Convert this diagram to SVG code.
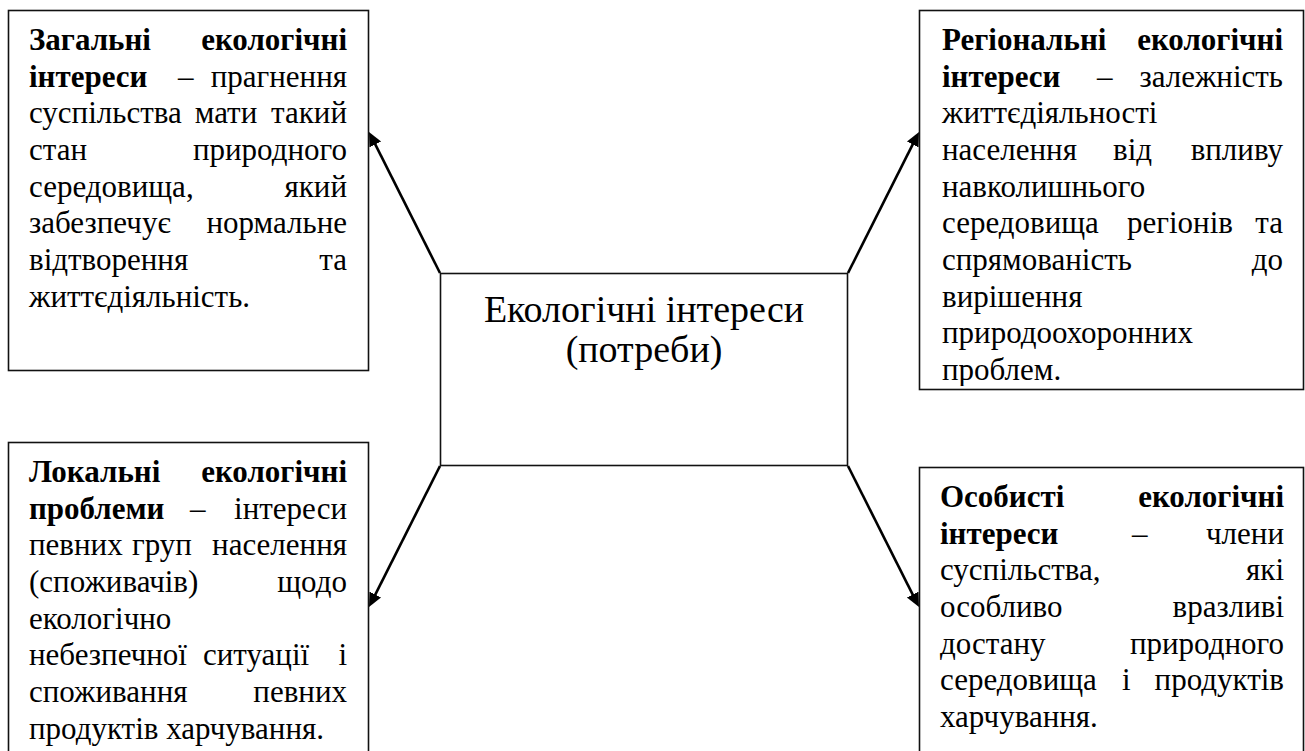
<svg xmlns="http://www.w3.org/2000/svg" width="1305" height="751" viewBox="0 0 1305 751">
<style>
.box{fill:#fff;stroke:#111;stroke-width:1.6}
.t{font-size:31px;fill:#000}
.f{font-family:'Liberation Serif','Times New Roman',serif}
.b{font-weight:bold}
.e{text-anchor:end}
.m{text-anchor:middle}
.c{font-size:38px;fill:#000;text-anchor:middle}
.arr{stroke:#000;stroke-width:2.6;fill:none;marker-end:url(#ah)}
</style>
<defs>
<marker id="ah" markerUnits="userSpaceOnUse" markerWidth="16" markerHeight="14" viewBox="0 0 16 14" refX="2" refY="6.5" orient="auto">
<path d="M0,0 L14,6.5 L0,13 z" fill="#000"/>
</marker>
<clipPath id="clip2"><rect x="919" y="10" width="386" height="376"/></clipPath>
</defs>
<rect width="1305" height="751" fill="#fff"/>

<g id="connectors">
<line class="arr" x1="440" y1="273" x2="374.4" y2="142.7"/>
<line class="arr" x1="848" y1="273" x2="913.6" y2="142.7"/>
<line class="arr" x1="440" y1="466" x2="374.4" y2="596.3"/>
<line class="arr" x1="848" y1="466" x2="913.6" y2="596.3"/>
</g>

<g id="center">
<rect class="box" x="440.5" y="273.5" width="407" height="192"/>
<text class="c f" x="644" y="322">Екологічні інтереси</text>
<text class="c f" x="644" y="362">(потреби)</text>
</g>

<g id="general">
<rect class="box" x="8.5" y="10.5" width="360" height="360"/>
<text class="t f b" x="29" y="50">Загальні</text><text class="t f b e" x="347" y="50">екологічні</text>
<text class="t f b" x="29" y="87">інтереси</text><text class="t f" x="178" y="87">–</text><text class="t f e" x="347" y="87">прагнення</text>
<text class="t f" x="29" y="123">суспільства</text><text class="t f m" x="226" y="123">мати</text><text class="t f e" x="347" y="123">такий</text>
<text class="t f" x="29" y="160">стан</text><text class="t f e" x="347" y="160">природного</text>
<text class="t f" x="29" y="197">середовища,</text><text class="t f e" x="347" y="197">який</text>
<text class="t f" x="29" y="233">забезпечує</text><text class="t f e" x="347" y="233">нормальне</text>
<text class="t f" x="29" y="270">відтворення</text><text class="t f e" x="347" y="270">та</text>
<text class="t f" x="29" y="307">життєдіяльність.</text>
</g>

<g id="regional">
<rect class="box" x="919.5" y="10.5" width="384" height="379"/>
<g clip-path="url(#clip2)">
<text class="t f b" x="942" y="50">Регіональні</text><text class="t f b e" x="1283" y="50">екологічні</text>
<text class="t f b" x="942" y="87">інтереси</text><text class="t f" x="1097" y="87">–</text><text class="t f e" x="1283" y="87">залежність</text>
<text class="t f" x="942" y="123">життєдіяльності</text>
<text class="t f" x="942" y="160">населення</text><text class="t f" x="1113" y="160">від</text><text class="t f e" x="1283" y="160">впливу</text>
<text class="t f" x="942" y="197">навколишнього</text>
<text class="t f" x="942" y="233">середовища</text><text class="t f" x="1127" y="233">регіонів</text><text class="t f e" x="1283" y="233">та</text>
<text class="t f" x="942" y="270">спрямованість</text><text class="t f e" x="1283" y="270">до</text>
<text class="t f" x="942" y="307">вирішення</text>
<text class="t f" x="942" y="343">природоохоронних</text>
<text class="t f" x="942" y="380">проблем.</text>
</g>
</g>

<g id="local">
<rect class="box" x="8.5" y="442.5" width="360" height="330"/>
<text class="t f b" x="29" y="482">Локальні</text><text class="t f b e" x="347" y="482">екологічні</text>
<text class="t f b" x="29" y="519">проблеми</text><text class="t f" x="190" y="519">–</text><text class="t f e" x="347" y="519">інтереси</text>
<text class="t f" x="29" y="555">певних</text><text class="t f m" x="162" y="555">груп</text><text class="t f e" x="347" y="555">населення</text>
<text class="t f" x="29" y="592">(споживачів)</text><text class="t f e" x="347" y="592">щодо</text>
<text class="t f" x="29" y="629">екологічно</text>
<text class="t f" x="29" y="665">небезпечної</text><text class="t f" x="203" y="665">ситуації</text><text class="t f e" x="347" y="665">і</text>
<text class="t f" x="29" y="702">споживання</text><text class="t f e" x="347" y="702">певних</text>
<text class="t f" x="29" y="739">продуктів харчування.</text>
</g>

<g id="personal">
<rect class="box" x="919.5" y="467.5" width="384" height="310"/>
<text class="t f b" x="940" y="507">Особисті</text><text class="t f b e" x="1284" y="507">екологічні</text>
<text class="t f b" x="940" y="544">інтереси</text><text class="t f" x="1132" y="544">–</text><text class="t f e" x="1284" y="544">члени</text>
<text class="t f" x="940" y="580">суспільства,</text><text class="t f e" x="1284" y="580">які</text>
<text class="t f" x="940" y="617">особливо</text><text class="t f e" x="1284" y="617">вразливі</text>
<text class="t f" x="940" y="654">достану</text><text class="t f e" x="1284" y="654">природного</text>
<text class="t f" x="940" y="690">середовища</text><text class="t f" x="1122" y="690">і</text><text class="t f e" x="1284" y="690">продуктів</text>
<text class="t f" x="940" y="727">харчування.</text>
</g>
</svg>
